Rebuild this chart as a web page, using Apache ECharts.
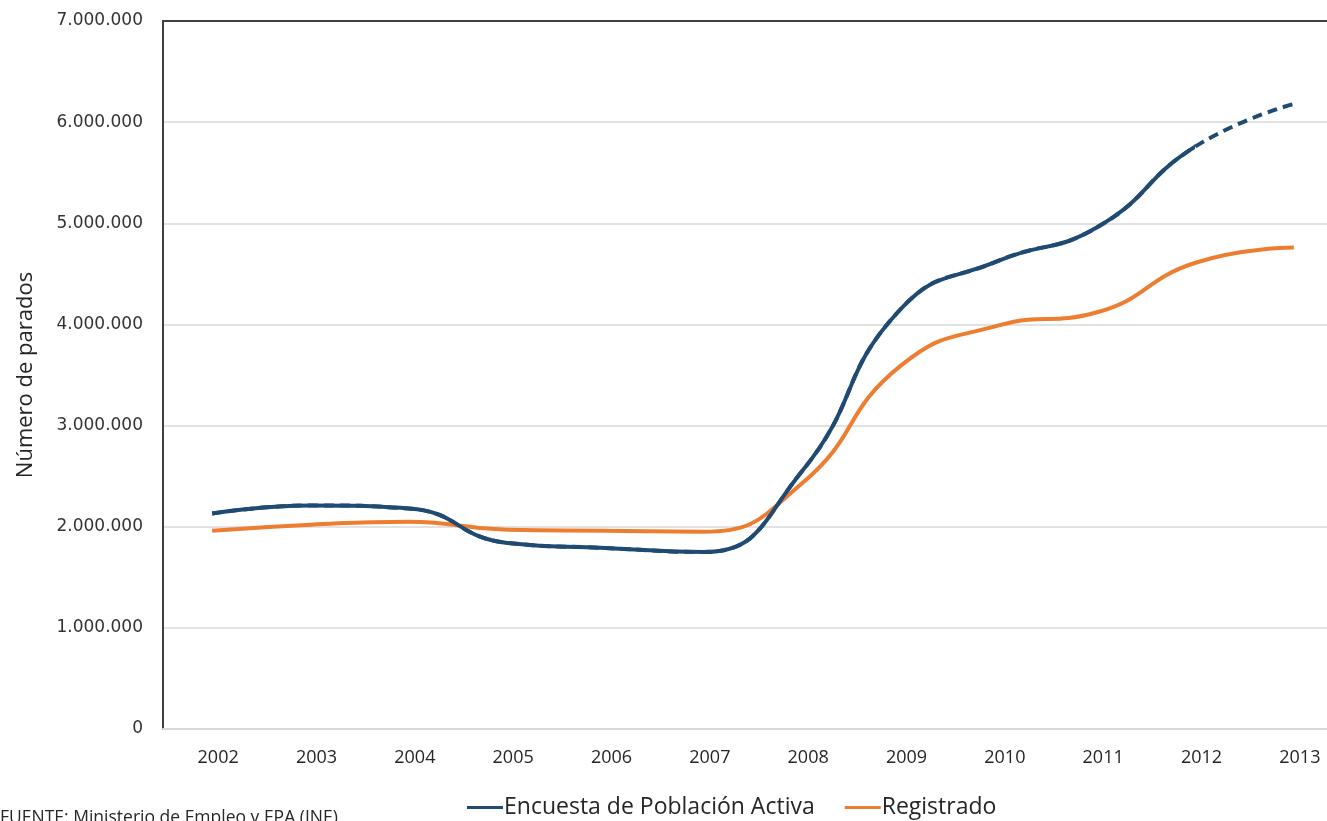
<!DOCTYPE html>
<html>
<head>
<meta charset="utf-8">
<script src="https://cdn.jsdelivr.net/npm/echarts@6/dist/echarts.min.js"></script>
<style>
html,body{margin:0;padding:0;background:#fff;overflow:hidden;width:1327px;height:821px;}
#chart{width:1346px;height:821px;}
</style>
</head>
<body>
<div id="chart"></div>
<script>
var categories = ['2002','2003','2004','2005','2006','2007','2008','2009','2010','2011','2012','2013'];
var epaValues = [2130000, 2210000, 2180000, 1840000, 1790000, 1750000, 2550000, 4150000, 4630000, 4960000, 5760000, 6180000];
var registradoValues = [1960000, 2020000, 2050000, 1970000, 1960000, 1950000, 2430000, 3590000, 3990000, 4120000, 4610000, 4760000];
var yTicks = [0, 1000000, 2000000, 3000000, 4000000, 5000000, 6000000, 7000000];
var epaName = 'Encuesta de Población Activa';
var regName = 'Registrado';
var lastSolidIndex = 10; // 2012: after it the EPA line is dashed

var BLUE = '#1f4a72';
var ORANGE = '#ed7d31';

function fmt(v){
  return String(Math.round(v)).replace(/\B(?=(\d{3})+(?!\d))/g, '.');
}

var chart = echarts.init(document.getElementById('chart'), null, {renderer:'canvas'});
chart.setOption({
  animation: false,
  backgroundColor: '#fff',
  grid: { left: 163, top: 21, bottom: 92, width: 1180 },
  xAxis: [{
    type: 'category',
    data: categories,
    boundaryGap: true,
    position: 'bottom',
    axisLine: { show: true, lineStyle: { color: '#d9d9d9', width: 2 } },
    axisTick: { show: false },
    axisLabel: { color: '#262626', fontFamily: 'Open Sans', fontSize: 18, margin: 20, padding: [0,0,0,12] },
    splitLine: { show: false }
  },{
    type: 'category',
    data: categories,
    position: 'top',
    axisLine: { show: true, onZero: false, lineStyle: { color: '#404040', width: 2 } },
    axisTick: { show: false },
    axisLabel: { show: false },
    splitLine: { show: false }
  }],
  yAxis: {
    type: 'value',
    min: yTicks[0],
    max: yTicks[yTicks.length - 1],
    interval: yTicks[1] - yTicks[0],
    name: 'Número de parados',
    nameLocation: 'middle',
    nameGap: 126,
    nameTextStyle: { color: '#262626', fontFamily: 'Open Sans', fontSize: 22 },
    axisLine: { show: true, lineStyle: { color: '#404040', width: 2 } },
    axisTick: { show: false },
    axisLabel: { color: '#333', fontFamily: 'DejaVu Sans', fontSize: 17, margin: 20, formatter: fmt },
    splitLine: { show: true, lineStyle: { color: '#d9d9d9', width: 1.5 } }
  },
  visualMap: {
    type: 'piecewise',
    show: false,
    dimension: 0,
    seriesIndex: 1,
    pieces: [
      { gte: 0, lte: lastSolidIndex, color: BLUE }
    ],
    outOfRange: { color: 'rgba(31,74,114,0)' }
  },
  legend: {
    data: [
      { name: epaName, itemStyle: { color: BLUE } },
      { name: regName, itemStyle: { color: ORANGE } }
    ],
    left: 462,
    top: 791,
    icon: 'rect',
    itemWidth: 36,
    itemHeight: 3,
    itemGap: 30,
    textStyle: { color: '#262626', fontFamily: 'Open Sans', fontSize: 23, padding: [0,0,0,-4] }
  },
  graphic: [{
    type: 'text',
    left: 0,
    top: 809,
    style: { text: 'FUENTE: Ministerio de Empleo y EPA (INE)', fill: '#262626', font: '17.5px "Open Sans"' }
  }],
  series: [{
    name: 'EPA previsión',
    type: 'line',
    data: epaValues,
    smooth: 0.5,
    symbol: 'none',
    z: 1,
    lineStyle: { color: BLUE, width: 4, type: [10, 6] },
    itemStyle: { color: BLUE }
  },{
    name: epaName,
    type: 'line',
    data: epaValues,
    smooth: 0.5,
    symbol: 'none',
    z: 3,
    lineStyle: { width: 4 },
    itemStyle: { color: BLUE }
  },{
    name: regName,
    type: 'line',
    data: registradoValues,
    smooth: 0.5,
    symbol: 'none',
    z: 2,
    lineStyle: { color: ORANGE, width: 4 },
    itemStyle: { color: ORANGE }
  }]
});
</script>
</body>
</html>
